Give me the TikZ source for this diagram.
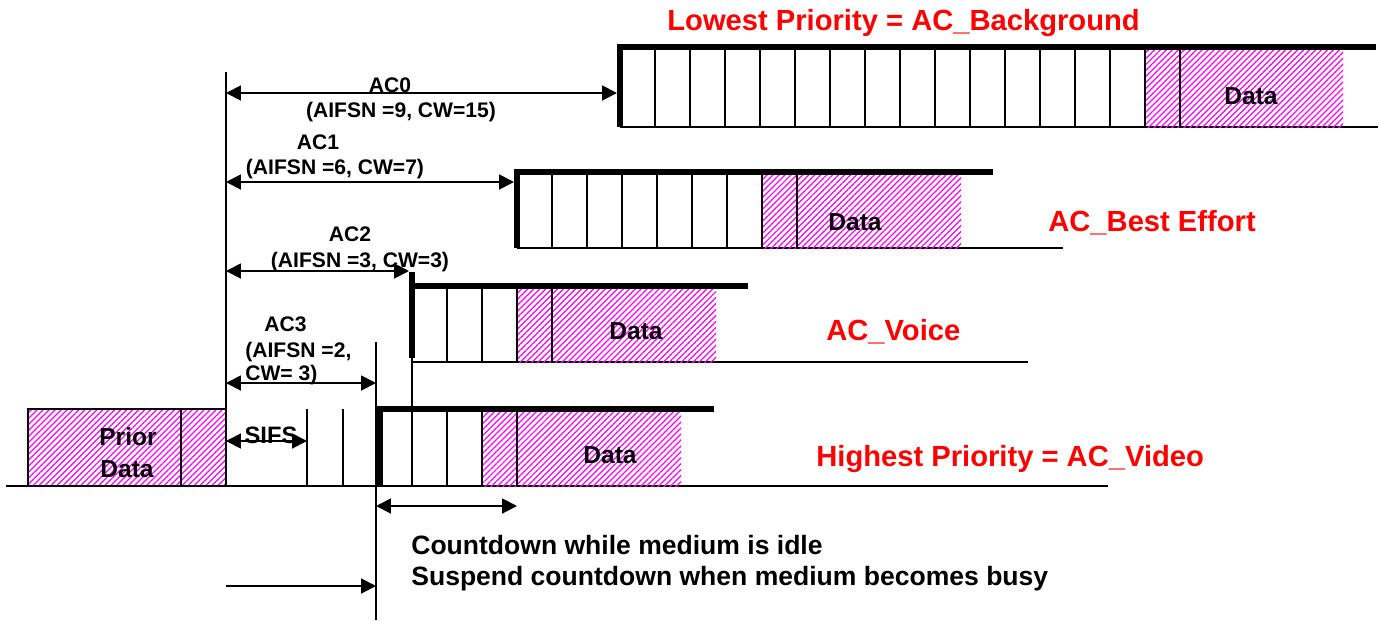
\documentclass[tikz,border=0pt]{standalone}
\usepackage{fontspec}
\setmainfont{Liberation Sans}
\usetikzlibrary{arrows.meta,patterns.meta}

\begin{document}
\begin{tikzpicture}[x=0.02cm, y=-0.02cm,
  thinline/.style={line width=1.1pt},
  bar/.style={line width=3.8pt, line join=miter},
  hatch/.style={pattern={Lines[angle=45,distance=2.4pt,line width=0.7pt]}, pattern color=magenta},
  dim/.style={thinline, {Triangle[length=8.5pt,width=8.5pt]}-{Triangle[length=8.5pt,width=8.5pt]}},
  onearrow/.style={thinline, -{Triangle[length=8.5pt,width=8.5pt]}},
  lbl/.style={font=\fontsize{12}{14}\selectfont\bfseries, inner sep=0pt, anchor=base},
  datalbl/.style={font=\fontsize{14}{16}\selectfont\bfseries, inner sep=0pt, anchor=base},
  cdlbl/.style={font=\fontsize{15.1}{17}\selectfont\bfseries, inner sep=0pt, anchor=base west},
  prio/.style={font=\fontsize{16.6}{19}\selectfont\bfseries, text=red, inner sep=0pt, anchor=base west}]
  \useasboundingbox (0,0) rectangle (1379,620);

  % medium and prior frame
  \draw[thinline] (6,486) -- (1108,486);
  \draw[thinline, hatch] (28,409) rectangle (226,486);
  \draw[thinline] (181,409) -- (181,486);
  \node[datalbl] (prior) at (128,445) {Prior};
  \node[datalbl] (priordata) at (127,477) {Data};

  % reference marks
  \draw[thinline] (226,72) -- (226,486);
  \draw[thinline] (307,409) -- (307,486);
  \draw[thinline] (343,409) -- (343,486);
  \draw[thinline] (376,342) -- (376,620);
  \draw[thinline] (412,358) -- (412,486);

  % AC_Video
  \fill[hatch] (482,411) rectangle (681,486);
  \foreach \x in {447,482,517}
    \draw[thinline] (\x,409) -- (\x,486);
  \draw[bar] (380,486) -- (380,409) -- (714,409);
  \node[datalbl] (d3) at (610,463) {Data};

  % AC_Voice
  \draw[thinline] (412,362) -- (1028,362);
  \fill[hatch] (517,288) rectangle (716,362);
  \foreach \x in {447,482,517,552}
    \draw[thinline] (\x,286) -- (\x,362);
  \draw[bar] (412,358) -- (412,272);
  \draw[bar] (412,286) -- (748,286);
  \node[datalbl] (d2) at (636,339) {Data};

  % AC_Best Effort
  \draw[thinline] (517,248) -- (1063,248);
  \fill[hatch] (762,174) rectangle (961,248);
  \foreach \i in {1,...,8}
    \draw[thinline] ({517+35*\i},172) -- ({517+35*\i},248);
  \draw[bar] (517,248) -- (517,172) -- (993,172);
  \node[datalbl] (d1) at (855,230) {Data};

  % AC_Background
  \draw[thinline] (620,127) -- (1378,127);
  \fill[hatch] (1144,49) rectangle (1343,127);
  \foreach \i in {1,...,16}
    \draw[thinline] ({620+35*\i},47) -- ({620+35*\i},127);
  \draw[bar] (620,127) -- (620,47) -- (1376,47);
  \node[datalbl] (d0) at (1251,104) {Data};

  % arrows
  \coordinate (a0l) at (226,93);  \coordinate (a0r) at (617,93);
  \coordinate (a1l) at (226,182); \coordinate (a1r) at (514,182);
  \coordinate (a2l) at (226,271); \coordinate (a2r) at (409,271);
  \coordinate (a3l) at (226,383); \coordinate (a3r) at (376,383);
  \coordinate (sl) at (226,441);  \coordinate (sr) at (307,441);
  \coordinate (cl) at (376,506);  \coordinate (cr) at (517,506);
  \coordinate (il) at (226,586);  \coordinate (ir) at (376,586);
  \draw[dim] (a0l) -- (a0r);
  \draw[dim] (a1l) -- (a1r);
  \draw[dim] (a2l) -- (a2r);
  \draw[dim] (a3l) -- (a3r);
  \draw[dim] (sl) -- (sr);
  \draw[dim] (cl) -- (cr);
  \draw[onearrow] (il) -- (ir);

  % labels
  \node[lbl] (ac0) at (390,92) {AC0};
  \node[lbl] (ac0par) at (401,117) {(AIFSN =9, CW=15)};
  \node[lbl] (ac1) at (318,149) {AC1};
  \node[lbl] (ac1par) at (335,174) {(AIFSN =6, CW=7)};
  \node[lbl] (ac2) at (350,241) {AC2};
  \node[lbl] (ac2par) at (360,267) {(AIFSN =3, CW=3)};
  \node[lbl, anchor=base west] (ac3) at (264,331) {AC3};
  \node[lbl, anchor=base west] (ac3par) at (245,357) {(AIFSN =2,};
  \node[lbl, anchor=base west] (ac3cw) at (245,380) {CW= 3)};
  \node[lbl, font=\fontsize{13.5}{15}\selectfont\bfseries] (sifs) at (271,443) {SIFS};
  \node[cdlbl] (idle) at (411,554) {Countdown while medium is idle};
  \node[cdlbl] (busy) at (411,585) {Suspend countdown when medium becomes busy};

  \node[prio] (lowest) at (667,30) {Lowest Priority = AC\_Background};
  \node[prio] (besteffort) at (1048,231) {AC\_Best Effort};
  \node[prio] (voice) at (826,340) {AC\_Voice};
  \node[prio] (highest) at (816,466) {Highest Priority = AC\_Video};
\end{tikzpicture}
\end{document}
